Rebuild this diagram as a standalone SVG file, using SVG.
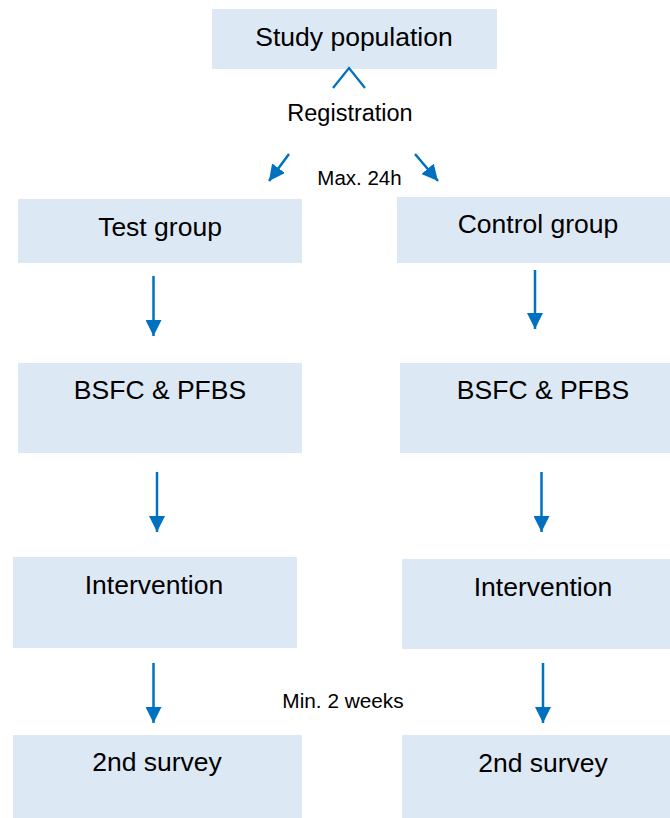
<svg xmlns="http://www.w3.org/2000/svg" width="670" height="818" viewBox="0 0 670 818">
  <style>
    .box { fill: #dde8f5; }
    .lbl { font-family: "Liberation Sans", Arial, sans-serif; font-size: 26.5px; fill: #000; text-anchor: middle; }
    .note { font-family: "Liberation Sans", Arial, sans-serif; fill: #000; text-anchor: middle; }
    .arr { stroke: #0070c0; stroke-width: 2.5; fill: none; marker-end: url(#ah); }
  </style>
  <defs>
    <marker id="ah" markerUnits="userSpaceOnUse" markerWidth="16" markerHeight="16" viewBox="0 0 16 16" refX="16" refY="8" orient="auto">
      <path d="M0,0 L16,8 L0,16 z" fill="#0070c0"/>
    </marker>
  </defs>
  <rect width="670" height="818" fill="#fff"/>

  <g id="study-population">
    <rect class="box" x="212" y="9" width="285" height="60"/>
    <text class="lbl" x="354" y="46">Study population</text>
  </g>
  <g id="test-group">
    <rect class="box" x="18" y="199" width="284" height="64"/>
    <text class="lbl" x="160" y="236">Test group</text>
  </g>
  <g id="control-group">
    <rect class="box" x="397" y="197" width="273" height="66"/>
    <text class="lbl" x="538" y="233">Control group</text>
  </g>
  <g id="bsfc-test">
    <rect class="box" x="18" y="363" width="284" height="90"/>
    <text class="lbl" x="160" y="399">BSFC &amp; PFBS</text>
  </g>
  <g id="bsfc-control">
    <rect class="box" x="400" y="363" width="270" height="90"/>
    <text class="lbl" x="543" y="399">BSFC &amp; PFBS</text>
  </g>
  <g id="intervention-test">
    <rect class="box" x="13" y="557" width="284" height="91"/>
    <text class="lbl" x="154" y="594">Intervention</text>
  </g>
  <g id="intervention-control">
    <rect class="box" x="402" y="559" width="268" height="90"/>
    <text class="lbl" x="543" y="596">Intervention</text>
  </g>
  <g id="survey-test">
    <rect class="box" x="13" y="735" width="289" height="83"/>
    <text class="lbl" x="157" y="771">2nd survey</text>
  </g>
  <g id="survey-control">
    <rect class="box" x="402" y="735" width="268" height="83"/>
    <text class="lbl" x="543" y="772">2nd survey</text>
  </g>

  <g id="labels">
    <text class="note" x="350" y="121" font-size="23.5">Registration</text>
    <text class="note" x="359.5" y="185" font-size="20.5">Max. 24h</text>
    <text class="note" x="343" y="708" font-size="20.8">Min. 2 weeks</text>
  </g>

  <g id="connectors">
    <polyline points="333,88 349,68 365,88" stroke="#0070c0" stroke-width="2.2" fill="none"/>
    <line class="arr" x1="289" y1="154" x2="269" y2="181"/>
    <line class="arr" x1="415" y1="154" x2="438" y2="181"/>
    <line class="arr" x1="153.5" y1="276" x2="153.5" y2="336"/>
    <line class="arr" x1="535" y1="270" x2="535" y2="329"/>
    <line class="arr" x1="157" y1="472" x2="157" y2="532"/>
    <line class="arr" x1="541.5" y1="472" x2="541.5" y2="532"/>
    <line class="arr" x1="153.5" y1="663" x2="153.5" y2="723"/>
    <line class="arr" x1="543" y1="663" x2="543" y2="723"/>
  </g>
</svg>
